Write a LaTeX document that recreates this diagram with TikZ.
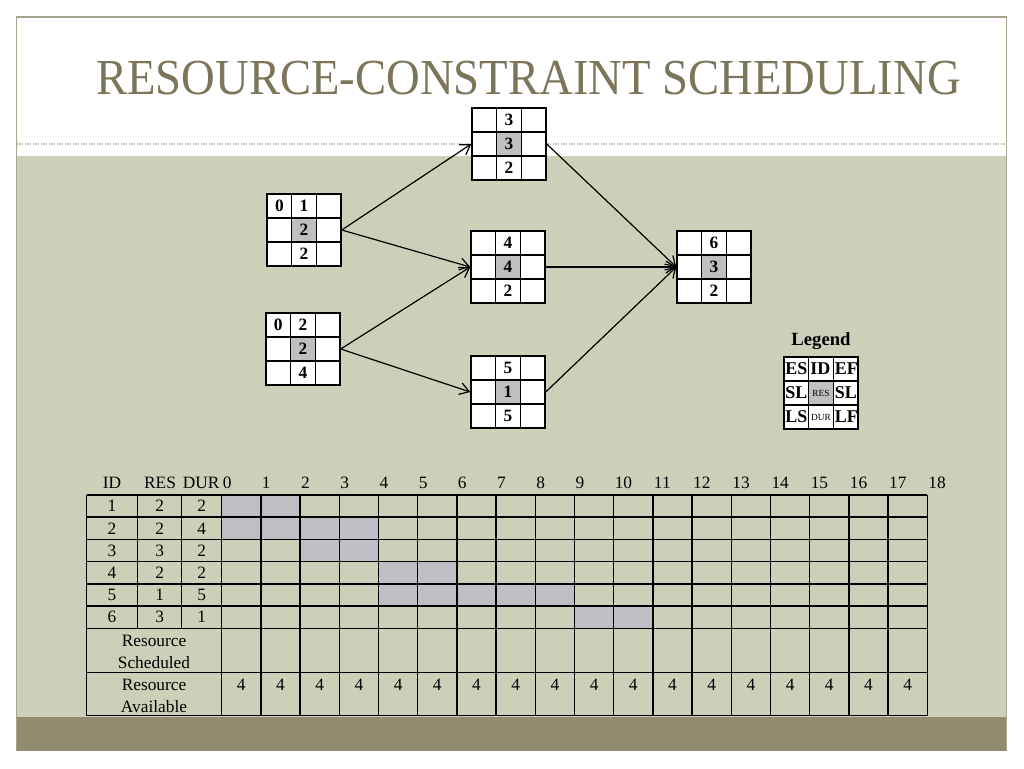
\documentclass[tikz,border=0pt]{standalone}
\usepackage{fontspec}
\setmainfont{Liberation Serif}
\usepackage{tikz}
\usetikzlibrary{arrows.meta}
\usetikzlibrary{positioning}

\definecolor{slidegreen}{HTML}{CDD0B9}
\definecolor{slidebrown}{HTML}{918B70}
\definecolor{titlegray}{HTML}{7B7559}
\definecolor{framegray}{HTML}{A8A48F}
\definecolor{resgray}{HTML}{BFBFBF}
\definecolor{busygray}{HTML}{BEBFC4}

\tikzset{
actbox/.style={draw,fill=white,line width=1.1pt,minimum width=55.5pt,minimum height=54pt,inner sep=0pt},
cellline/.style={line width=1.1pt},
digit/.style={font=\fontsize{13}{15}\selectfont\bfseries,inner sep=0pt,anchor=base},
lgdtext/.style={font=\fontsize{13.5}{15}\selectfont\bfseries,inner sep=0pt,anchor=base west},
link/.style={-{Straight Barb[length=7pt,width=9pt]},line width=0.9pt},
tabline/.style={line width=1.1pt},
tabtext/.style={font=\fontsize{13}{16.5}\selectfont,inner sep=0pt,align=center}
}

\begin{document}
\begin{tikzpicture}[x=0.75pt,y=-0.75pt]
\useasboundingbox (0,0) rectangle (1024,768);
\fill[white] (0,0) rectangle (1024,768);
\fill[slidegreen] (16.5,156) rectangle (1006.5,717);
\fill[slidebrown] (16.5,717) rectangle (1006.5,751);
\draw[framegray,line width=0.8pt] (16.5,751) -- (16.5,17) -- (1006.5,17) -- (1006.5,751);
\draw[framegray!70,line width=1.5pt,dash pattern=on 1.2pt off 0.8pt] (16.5,143.5) -- (1006.5,143.5);
\node[text=titlegray,font=\fontsize{35}{40}\selectfont] (title) at (528.5,78) {\scalebox{1}[1.08]{RESOURCE-CONSTRAINT SCHEDULING}};

% activity boxes
\foreach \n/\x/\y/\es/\tp/\res/\dur in {1/267/194/0/1/2/2,2/266/313/0/2/2/4,3/472/108/{}/3/3/2,4/471/231/{}/4/4/2,5/471/356/{}/5/1/5,6/677/231/{}/6/3/2}{
\node[actbox] (a\n) at (\x+37,\y+36) {};
\fill[resgray] (\x+24.67,\y+24) rectangle (\x+49.33,\y+48);
\draw[cellline] (\x+24.67,\y) -- (\x+24.67,\y+72) (\x+49.33,\y) -- (\x+49.33,\y+72)
 (\x,\y+24) -- (\x+74,\y+24) (\x,\y+48) -- (\x+74,\y+48);
\node[digit] (es\n) at (\x+12.33,\y+17.5) {\es};
\node[digit] (id\n) at (\x+37,\y+17.5) {\tp};
\node[digit] (res\n) at (\x+37,\y+41.5) {\res};
\node[digit] (dur\n) at (\x+37,\y+65.5) {\dur};
}
\draw[link] (a1.east) -- (a3.west);
\draw[link] (a1.east) -- (a4.west);
\draw[link] (a2.east) -- (a4.west);
\draw[link] (a2.east) -- (a5.west);
\draw[link] (a3.east) -- (a6.west);
\draw[link] (a4.east) -- (a6.west);
\draw[link] (a5.east) -- (a6.west);

% legend
\node[actbox] (lgd) at (821,393) {};
\node[font=\fontsize{14}{16}\selectfont\bfseries,inner sep=0pt,above=4.5pt of lgd] (lgdtitle) {Legend};
\node[lgdtext] (lgdes) at (785,374.5) {ES};
\node[lgdtext] (lgdid) at (810,374.5) {ID};
\node[lgdtext] (lgdef) at (834.5,374.5) {EF};
\node[lgdtext] (lgdsl) at (785,398.5) {SL};
\node[lgdtext] (lgdsr) at (834.5,398.5) {SL};
\node[lgdtext] (lgdls) at (785,422.5) {LS};
\node[lgdtext] (lgdlf) at (834.5,422.5) {LF};
\fill[resgray] (808.67,381) rectangle (833.33,405);
\node[font=\fontsize{7}{8}\selectfont,inner sep=0pt] (lgdres) at (821,393) {RES};
\node[font=\fontsize{7}{8}\selectfont,inner sep=0pt] (lgddur) at (821,417.5) {DUR};
\draw[cellline] (808.67,357) -- (808.67,429) (833.33,357) -- (833.33,429)
 (784,381) -- (858,381) (784,405) -- (858,405);

% schedule table
\foreach \r/\c/\d in {0/0/1,1/0/3,2/2/3,3/4/5,4/4/8,5/9/10}
\fill[busygray] (221.7+39.2*\c,495+22.22*\r) rectangle (260.9+39.2*\d,517.22+22.22*\r);
\foreach \yy in {495,517.22,539.44,561.67,583.89,606.11,628.33,672.33,715.67}
\draw[tabline] (86.7,\yy) -- (927.3,\yy);
\draw[tabline] (86.7,495) -- (86.7,715.67);
\draw[tabline] (137.7,495) -- (137.7,628.33) (181.7,495) -- (181.7,628.33);
\foreach \i in {0,...,18}
\draw[tabline] (221.7+39.2*\i,495) -- (221.7+39.2*\i,715.67);

\node[tabtext] (hid) at (112,483) {ID};
\node[tabtext] (hres) at (160,483) {RES};
\node[tabtext,anchor=west] (hdur) at (182.5,483) {DUR};
\foreach \i in {0,...,18}
\node[tabtext,anchor=west] (t\i) at (222.5+39.2*\i,483) {\i};

\foreach \r/\id/\res/\dur in {0/1/2/2,1/2/2/4,2/3/3/2,3/4/2/2,4/5/1/5,5/6/3/1}{
\node[tabtext] (rid\id) at (112,506.1+22.22*\r) {\id};
\node[tabtext] (rres\id) at (159.7,506.1+22.22*\r) {\res};
\node[tabtext] (rdur\id) at (201.7,506.1+22.22*\r) {\dur};
}
\node[tabtext] (rsched) at (154,651.7) {Resource\\Scheduled};
\node[tabtext] (ravail) at (154,695.8) {Resource\\Available};
\foreach \i in {0,...,17}
\node[tabtext] (av\i) at (241.3+39.2*\i,685) {4};

\end{tikzpicture}
\end{document}
